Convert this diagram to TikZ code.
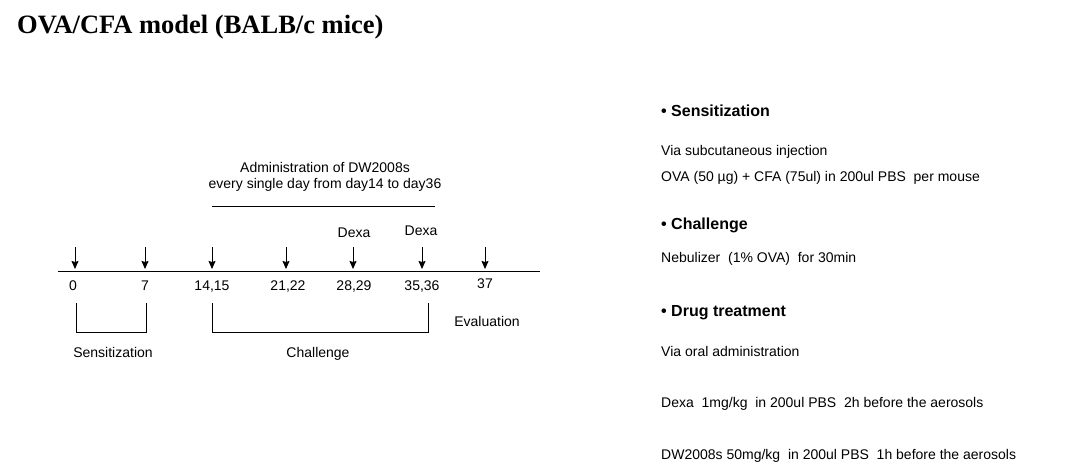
\documentclass[tikz,border=0pt]{standalone}
\usepackage{fontspec}
\setmainfont{Liberation Sans}
\newfontfamily\titlefont{Liberation Serif}
\usetikzlibrary{arrows.meta}
\tikzset{
  lbl/.style={inner sep=0pt, text height=10pt, text depth=3pt, yshift=-2pt, font=\fontsize{14}{16}\selectfont},
  txt/.style={inner sep=0pt, anchor=west, text height=10pt, text depth=3pt, yshift=-2pt, font=\fontsize{14}{16}\selectfont},
  head/.style={inner sep=0pt, anchor=west, text height=11.5pt, text depth=3.5pt, yshift=-2.5pt, font=\fontsize{16}{18}\selectfont\bfseries},
  tick/.style={-{Stealth[length=8pt,width=7pt,inset=1pt]}, line width=1pt},
  axis/.style={line width=1pt},
  brk/.style={line width=0.9pt}
}
\begin{document}
\begin{tikzpicture}[x=1pt,y=-1pt]
\useasboundingbox (0,0) rectangle (1065,473);
% title
\node[inner sep=0pt, anchor=west, font=\titlefont\fontsize{26.5}{30}\selectfont\bfseries] (title) at (17,27) {OVA/CFA model (BALB/c mice)};
% administration
\node[inner sep=0pt, align=center, font=\fontsize{14}{16}\selectfont] (adm) at (325,177) {Administration of DW2008s\\every single day from day14 to day36};
\coordinate (admL) at (212,207);
\coordinate (admR) at (435,207);
\draw[axis] (admL) -- (admR);
% axis
\coordinate (axL) at (58,271);
\coordinate (axR) at (540,271);
\draw[axis] (axL) -- (axR);
% ticks
\foreach \n/\x in {a/75,b/145,c/212,d/286,e/353,f/422,g/485}{
  \coordinate (\n t) at (\x,247);
  \coordinate (\n b) at (\x,269);
  \draw[tick] (\n t) -- (\n b);
}
\node[lbl] (d0) at (73,285) {0};
\node[lbl] (d7) at (145,285) {7};
\node[lbl] (d14) at (212,285) {14,15};
\node[lbl] (d21) at (288,285) {21,22};
\node[lbl] (d28) at (354,285) {28,29};
\node[lbl] (d35) at (422,285) {35,36};
\node[lbl] (d37) at (485,283) {37};
\node[lbl] (dexa1) at (354,232) {Dexa};
\node[lbl] (dexa2) at (421,230) {Dexa};
% brackets
\coordinate (s1) at (76,303); \coordinate (s2) at (76,332);
\coordinate (s3) at (146,332); \coordinate (s4) at (146,303);
\draw[brk] (s1) -- (s2) -- (s3) -- (s4);
\coordinate (c1) at (212,303); \coordinate (c2) at (212,332);
\coordinate (c3) at (428,332); \coordinate (c4) at (428,303);
\draw[brk] (c1) -- (c2) -- (c3) -- (c4);
\node[lbl] (sens) at (113,352) {Sensitization};
\node[lbl] (chal) at (318,352) {Challenge};
\node[lbl] (eval) at (487,321) {Evaluation};
% right panel
\node[head] (h1) at (661,110) {• Sensitization};
\node[txt] (t1) at (661,150) {Via subcutaneous injection};
\node[txt] (t2) at (661,176) {OVA (50 µg) + CFA (75ul) in 200ul PBS \ per mouse};
\node[head] (h2) at (661,223) {• Challenge};
\node[txt] (t3) at (661,257) {Nebulizer \ (1\% OVA) \ for 30min};
\node[head] (h3) at (661,310) {• Drug treatment};
\node[txt] (t4) at (661,351) {Via oral administration};
\node[txt] (t5) at (661,402) {Dexa \ 1mg/kg \ in 200ul PBS \ 2h before the aerosols};
\node[txt] (t6) at (661,454) {DW2008s 50mg/kg \ in 200ul PBS \ 1h before the aerosols};
\end{tikzpicture}
\end{document}
